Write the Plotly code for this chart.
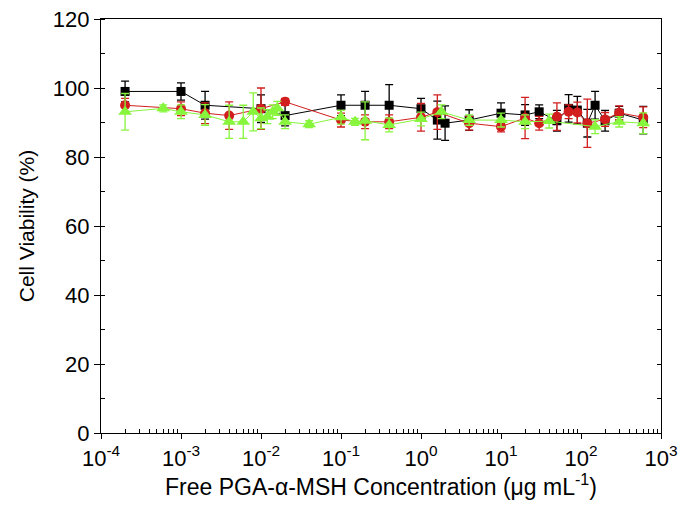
import plotly.graph_objects as go

# Black squares
conc_black = [2e-4, 1e-3, 2e-3, 1e-2, 2e-2, 0.1, 0.2, 0.4, 1, 1.6, 2, 4, 10, 20, 30, 50, 70, 90, 120, 150, 200, 300, 600]
via_black = [99, 99, 95, 94, 92, 95, 95, 95, 94, 90.7, 89.8, 90.7, 92.7, 92.2, 93.1, 90.5, 94.1, 93.6, 89.8, 95, 90.5, 92.7, 90.7]
err_black = [3, 2.5, 4, 4, 3, 3, 4, 6, 3, 5.5, 5, 3, 3, 3, 2, 3, 4, 4, 4, 4, 3, 2, 4]

# Red circles
conc_red = [2e-4, 1e-3, 2e-3, 4e-3, 1e-2, 2e-2, 0.1, 0.2, 0.4, 1, 1.6, 4, 10, 20, 30, 50, 70, 90, 120, 200, 300, 600]
via_red = [95, 94, 92.7, 92, 94, 96, 90.7, 90.2, 90.2, 91.5, 93, 89.8, 88.8, 91.3, 89.8, 91.7, 93.1, 92.9, 89.8, 90.9, 92.8, 91.5]
err_red = [2, 2, 3, 4, 6, 1, 2, 2, 2, 4, 5, 2, 1.5, 6, 2, 4, 2, 3, 7, 2, 2, 3]

# Green triangles
conc_green = [2e-4, 6e-4, 1e-3, 2e-3, 4e-3, 6e-3, 8e-3, 1e-2, 1.2e-2, 1.4e-2, 1.6e-2, 2e-2, 4e-2, 0.1, 0.15, 0.2, 0.4, 1, 1.8, 4, 10, 20, 40, 150, 300, 600]
via_green = [93.1, 94.1, 93.1, 92.2, 90.2, 90.2, 93.1, 91.2, 91.7, 93.1, 94.1, 90.2, 89.5, 91.5, 90.2, 90.5, 89.3, 91, 93.1, 90.7, 90.7, 90.2, 90.4, 88.8, 90.2, 89.8]
err_green = [5.3, 1, 2, 3, 4.8, 4.8, 5.5, 3, 2, 2, 2, 2, 1, 2, 1, 5.5, 2, 2, 2, 1.5, 2, 2, 2, 2, 1.5, 3]

x_tickvals = [1e-4, 1e-3, 1e-2, 1e-1, 1, 10, 100, 1000]
x_ticktext = ["10<sup>-4</sup>", "10<sup>-3</sup>", "10<sup>-2</sup>", "10<sup>-1</sup>",
              "10<sup>0</sup>", "10<sup>1</sup>", "10<sup>2</sup>", "10<sup>3</sup>"]
y_tickvals = [0, 20, 40, 60, 80, 100, 120]
x_minor = [m * d for d in x_tickvals[:-1] for m in range(2, 10)]

series = [
    (conc_black, via_black, err_black, "#000000", "square", 9),
    (conc_red, via_red, err_red, "#d21e1e", "circle", 10),
    (conc_green, via_green, err_green, "#86f53c", "triangle-up", 12),
]

fig = go.Figure()
for xs, ys, es, col, sym, sz in series:
    fig.add_trace(go.Scatter(
        x=xs, y=ys, mode="lines+markers",
        line=dict(color=col, width=1),
        marker=dict(symbol=sym, size=sz, color=col, line=dict(width=0)),
        error_y=dict(type="data", array=es, visible=True, color=col, thickness=1.3, width=4),
        showlegend=False,
    ))

# invisible trace to drive the right axis ticks
fig.add_trace(go.Scatter(x=[1e-4], y=[0], yaxis="y2", mode="markers",
                         marker=dict(opacity=0), showlegend=False, hoverinfo="skip"))

font_family = "Liberation Sans, Arial, sans-serif"
fig.update_layout(
    width=686, height=505,
    margin=dict(l=101, r=25, t=19, b=72),
    paper_bgcolor="white", plot_bgcolor="white",
    font=dict(family=font_family, size=22, color="black"),
    xaxis=dict(
        type="log", range=[-4, 3], automargin=False,
        tickvals=x_tickvals, ticktext=x_ticktext,
        ticks="outside", ticklen=5, tickwidth=1, tickcolor="black",
        minor=dict(tickmode="array", tickvals=x_minor, ticks="inside", ticklen=4,
                   tickwidth=1, tickcolor="black", showgrid=False),
        showline=True, linecolor="black", linewidth=1.2, mirror=True,
        showgrid=False, zeroline=False,
        title=dict(text="Free PGA-α-MSH Concentration (μg mL<sup>-1</sup>)", font=dict(size=23), standoff=9),
        tickfont=dict(size=22),
    ),
    yaxis=dict(
        range=[0, 120], tickvals=y_tickvals, automargin=False,
        ticks="outside", ticklen=6, tickwidth=1, tickcolor="black",
        minor=dict(ticks="inside", ticklen=4, tickwidth=1, tickcolor="black", dtick=10, showgrid=False),
        showline=True, linecolor="black", linewidth=1.2, mirror=True,
        showgrid=False, zeroline=False,
        title=dict(text="Cell Viability (%)", font=dict(size=21), standoff=12),
        tickfont=dict(size=22),
    ),
    yaxis2=dict(
        overlaying="y", side="right", range=[0, 120], dtick=10, automargin=False,
        ticks="inside", ticklen=4, tickwidth=1, tickcolor="black",
        showticklabels=False, showgrid=False, zeroline=False, showline=False,
    ),
)

fig.write_html("out.html", config={"displayModeBar": False},
               post_script="document.body.style.margin='0';")
